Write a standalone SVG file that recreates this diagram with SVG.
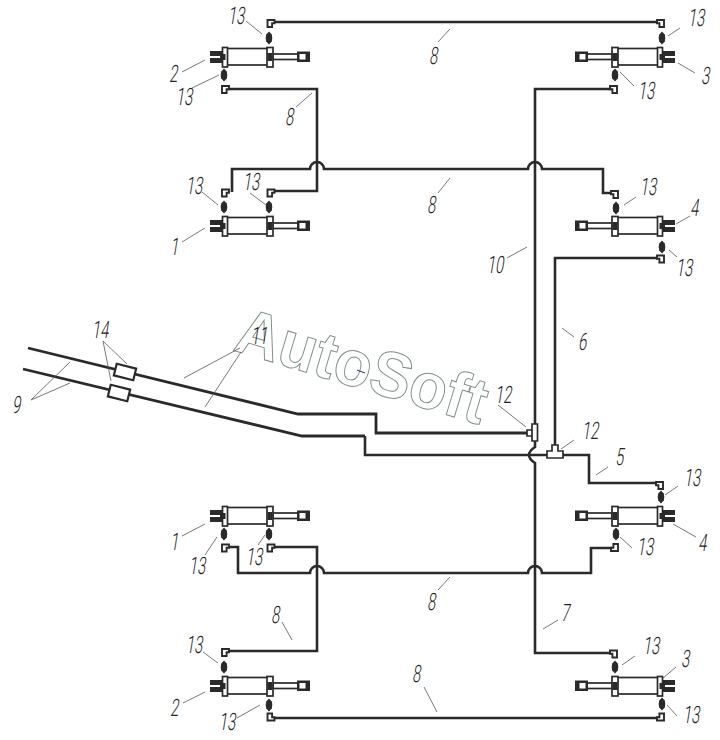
<svg xmlns="http://www.w3.org/2000/svg" xmlns:xlink="http://www.w3.org/1999/xlink" width="720" height="740" viewBox="0 0 720 740">
<style>
.pipe{fill:none;stroke:#2a2a2a;stroke-width:2.6;stroke-linejoin:miter}
.main{fill:none;stroke:#2a2a2a;stroke-width:2.8}
.lead{fill:none;stroke:#555;stroke-width:.8}
.lb{font-family:Roboto,"Liberation Sans",Arial,sans-serif;font-size:24px;font-weight:300;fill:#222;text-anchor:middle}
.wm{font-family:"Liberation Sans",Arial,sans-serif;font-size:65px;font-weight:bold;fill:#fff;stroke:#7f9086;stroke-width:1}
.o{fill:#fff;stroke:#2a2a2a;stroke-width:1.7}
.d{fill:#2a2a2a}
.w{fill:#fff}
.el{fill:#fff;stroke:#2a2a2a;stroke-width:1.9}
</style>
<defs>
<g id="cyl">
<rect class="d" x="0" y="-6" width="14" height="12"/><rect class="w" x="0" y="-1" width="10" height="2"/>
<rect class="o" x="17" y="-8.500" width="41" height="16.500"/>
<rect class="o" x="12.500" y="-9.500" width="5" height="19.500"/><rect class="d" x="11.500" y="-3" width="4" height="6"/>
<rect class="o" x="63" y="-3" width="26" height="5.500"/>
<rect class="o" x="57" y="-9.500" width="6" height="19.500"/><rect class="d" x="57.500" y="-4" width="5" height="8"/>
<rect class="d" x="87" y="-5.500" width="13" height="10.500"/><rect class="w" x="89.500" y="-3" width="6" height="5.500"/>
</g>
<g id="nip"><path class="d" d="M0-6.500L2.800-3.500 3.300 0 2.800 3.500 0 6.500-2.800 3.500-3.300 0-2.800-3.500Z"/></g>
<path id="elb" class="el" d="M0 0H7V3.200H4.600V7H0Z"/>
</defs>

<g id="watermark">
<text class="wm" transform="translate(232,350) rotate(16.800)" textLength="259" lengthAdjust="spacingAndGlyphs">AutoSoft</text>
<path d="M357 370L365 373" stroke="#33448a" stroke-width="1.200"/>
</g>

<g id="connectors">
<path class="pipe" d="M272 22H658"/>
<path class="pipe" d="M228 89H317V191H273"/>
<path class="pipe" d="M232 192V169H310A7 7 0 0 1 324 169H528A7 7 0 0 1 542 169H603V193H612"/>
<path class="pipe" d="M612 89H535V424"/>
<path class="pipe" d="M535 440V447Q523 455 535 463V653H611"/>
<path class="pipe" d="M555 450V258H658"/>
<path class="pipe" d="M365 436V455H589V483H656"/>
<path class="pipe" d="M228 547H238V573H310A7 7 0 0 1 324 573H528A7 7 0 0 1 542 573H591V548H612"/>
<path class="pipe" d="M273 547H317V651H228"/>
<path class="pipe" d="M273 718H659"/>
<path class="main" d="M28 348L298 414H376V433H528"/>
<path class="main" d="M23 369L302 436H365"/>
</g>

<g id="couplings-14">
<rect class="o" x="115" y="366" width="20" height="12" transform="rotate(14 125 372)" style="stroke-width:2.200"/>
<rect class="o" x="109" y="387" width="20" height="12" transform="rotate(14 119 393)" style="stroke-width:2.200"/>
</g>

<g id="tee-12a"><path class="o" d="M532 424H537.500V441H532ZM527 430H532V436H527Z"/></g>
<g id="tee-12b"><path class="o" d="M552 445H558V451H563V458H547V451H552Z"/></g>

<g id="cyl-2-top"><use href="#cyl" xlink:href="#cyl" transform="translate(210,57)"/></g>
<g id="cyl-3-top"><use href="#cyl" xlink:href="#cyl" transform="translate(675,57) scale(-1,1)"/></g>
<g id="cyl-1-upper"><use href="#cyl" xlink:href="#cyl" transform="translate(210,226)"/></g>
<g id="cyl-4-upper"><use href="#cyl" xlink:href="#cyl" transform="translate(675,226) scale(-1,1)"/></g>
<g id="cyl-1-lower"><use href="#cyl" xlink:href="#cyl" transform="translate(210,516)"/></g>
<g id="cyl-4-lower"><use href="#cyl" xlink:href="#cyl" transform="translate(675,516) scale(-1,1)"/></g>
<g id="cyl-2-bottom"><use href="#cyl" xlink:href="#cyl" transform="translate(210,686)"/></g>
<g id="cyl-3-bottom"><use href="#cyl" xlink:href="#cyl" transform="translate(675,686) scale(-1,1)"/></g>

<g id="nipples-13">
<use href="#nip" xlink:href="#nip" x="269" y="38"/><use href="#nip" xlink:href="#nip" x="224" y="75"/>
<use href="#nip" xlink:href="#nip" x="662" y="38"/><use href="#nip" xlink:href="#nip" x="615" y="75"/>
<use href="#nip" xlink:href="#nip" x="224" y="207"/><use href="#nip" xlink:href="#nip" x="269" y="207"/>
<use href="#nip" xlink:href="#nip" x="616" y="208"/><use href="#nip" xlink:href="#nip" x="662" y="247"/>
<use href="#nip" xlink:href="#nip" x="224" y="534"/><use href="#nip" xlink:href="#nip" x="269" y="534"/>
<use href="#nip" xlink:href="#nip" x="616" y="534"/><use href="#nip" xlink:href="#nip" x="661" y="497"/>
<use href="#nip" xlink:href="#nip" x="224" y="667"/><use href="#nip" xlink:href="#nip" x="269" y="705"/>
<use href="#nip" xlink:href="#nip" x="615" y="667"/><use href="#nip" xlink:href="#nip" x="662" y="704"/>
</g>

<g id="elbows">
<use href="#elb" xlink:href="#elb" transform="translate(267.500,20)"/>
<use href="#elb" xlink:href="#elb" transform="translate(664,20) scale(-1,1)"/>
<use href="#elb" xlink:href="#elb" transform="translate(222,86)"/>
<use href="#elb" xlink:href="#elb" transform="translate(617,86) scale(-1,1)"/>
<use href="#elb" xlink:href="#elb" transform="translate(222,189.500)"/>
<use href="#elb" xlink:href="#elb" transform="translate(267.500,189.500)"/>
<use href="#elb" xlink:href="#elb" transform="translate(618,191) scale(-1,1)"/>
<use href="#elb" xlink:href="#elb" transform="translate(664,255.500) scale(-1,1)"/>
<use href="#elb" xlink:href="#elb" transform="translate(663,482) scale(-1,1)"/>
<use href="#elb" xlink:href="#elb" transform="translate(222,544.500)"/>
<use href="#elb" xlink:href="#elb" transform="translate(267.500,544.500)"/>
<use href="#elb" xlink:href="#elb" transform="translate(618,551) scale(-1,-1)"/>
<use href="#elb" xlink:href="#elb" transform="translate(222,649)"/>
<use href="#elb" xlink:href="#elb" transform="translate(617,650.500) scale(-1,1)"/>
<use href="#elb" xlink:href="#elb" transform="translate(267.500,720.500) scale(1,-1)"/>
<use href="#elb" xlink:href="#elb" transform="translate(664,720.500) scale(-1,-1)"/>
</g>

<g id="leaders">
<path class="lead" d="M246 21L262 34M182 72L205 60M192 88L219 75M296 107L312 93M438 42L450 29M668 36L680 28M678 63L695 73M620 72L634 86"/>
<path class="lead" d="M182 242L205 228M202 192L218 205M250 193L266 205M438 193L450 178M624 205L636 197M676 224L690 216M669 250L677 257M507 258L527 247M562 328L574 337"/>
<path class="lead" d="M103 341L127 364M103 341L111 381M31 400L70 362M31 400L70 383M184 378L240 348M205 407L241 352"/>
<path class="lead" d="M498 405L526 427M561 449L574 440M596 475L608 467M665 495L678 486M673 524L696 537M620 537L632 548M543 629L558 620"/>
<path class="lead" d="M182 536L205 524M205 555L217 537M258 545L265 535M438 590L450 577M282 622L292 640M203 652L218 663M183 703L205 692M237 718L260 705M622 665L635 656M663 678L676 667M667 705L677 716M424 687L437 712"/>
</g>

<g id="labels">
<text class="lb" transform="matrix(.62 0 -.16 1 236 24)">13</text>
<text class="lb" transform="matrix(.62 0 -.16 1 173 82)">2</text>
<text class="lb" transform="matrix(.62 0 -.16 1 184 105)">13</text>
<text class="lb" transform="matrix(.62 0 -.16 1 289 125)">8</text>
<text class="lb" transform="matrix(.62 0 -.16 1 433 64)">8</text>
<text class="lb" transform="matrix(.62 0 -.16 1 696 26)">13</text>
<text class="lb" transform="matrix(.62 0 -.16 1 705 84)">3</text>
<text class="lb" transform="matrix(.62 0 -.16 1 646 99)">13</text>
<text class="lb" transform="matrix(.62 0 -.16 1 174 255)">1</text>
<text class="lb" transform="matrix(.62 0 -.16 1 194 194)">13</text>
<text class="lb" transform="matrix(.62 0 -.16 1 251 190)">13</text>
<text class="lb" transform="matrix(.62 0 -.16 1 431 213)">8</text>
<text class="lb" transform="matrix(.62 0 -.16 1 648 195)">13</text>
<text class="lb" transform="matrix(.62 0 -.16 1 694 216)">4</text>
<text class="lb" transform="matrix(.62 0 -.16 1 684 276)">13</text>
<text class="lb" transform="matrix(.62 0 -.16 1 495 273)">10</text>
<text class="lb" transform="matrix(.62 0 -.16 1 582 350)">6</text>
<text class="lb" transform="matrix(.62 0 -.16 1 100 338)">14</text>
<text class="lb" transform="matrix(.62 0 -.16 1 16 413)">9</text>
<text class="lb" transform="matrix(.62 0 -.16 1 259 344)">11</text>
<text class="lb" transform="matrix(.62 0 -.16 1 503 403)">12</text>
<text class="lb" transform="matrix(.62 0 -.16 1 590 439)">12</text>
<text class="lb" transform="matrix(.62 0 -.16 1 619 465)">5</text>
<text class="lb" transform="matrix(.62 0 -.16 1 692 486)">13</text>
<text class="lb" transform="matrix(.62 0 -.16 1 702 551)">4</text>
<text class="lb" transform="matrix(.62 0 -.16 1 645 555)">13</text>
<text class="lb" transform="matrix(.62 0 -.16 1 565 621)">7</text>
<text class="lb" transform="matrix(.62 0 -.16 1 174 550)">1</text>
<text class="lb" transform="matrix(.62 0 -.16 1 197 574)">13</text>
<text class="lb" transform="matrix(.62 0 -.16 1 254 565)">13</text>
<text class="lb" transform="matrix(.62 0 -.16 1 431 610)">8</text>
<text class="lb" transform="matrix(.62 0 -.16 1 275 623)">8</text>
<text class="lb" transform="matrix(.62 0 -.16 1 194 653)">13</text>
<text class="lb" transform="matrix(.62 0 -.16 1 174 716)">2</text>
<text class="lb" transform="matrix(.62 0 -.16 1 227 730)">13</text>
<text class="lb" transform="matrix(.62 0 -.16 1 651 654)">13</text>
<text class="lb" transform="matrix(.62 0 -.16 1 685 667)">3</text>
<text class="lb" transform="matrix(.62 0 -.16 1 691 723)">13</text>
<text class="lb" transform="matrix(.62 0 -.16 1 416 682)">8</text>
</g>
</svg>
